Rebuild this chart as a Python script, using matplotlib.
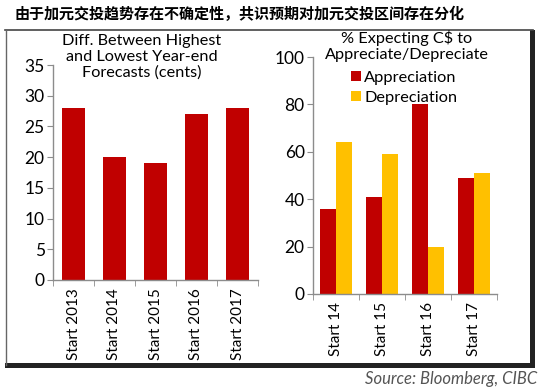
import matplotlib
matplotlib.use("Agg")
import matplotlib.pyplot as plt
import numpy as np
from matplotlib.patches import Rectangle
from matplotlib.lines import Line2D

plt.rcParams["font.family"] = ["Lato", "DejaVu Sans"]

# Left panel: gap between highest and lowest year-end forecasts
left_cats = ["Start 2013", "Start 2014", "Start 2015", "Start 2016", "Start 2017"]
left_vals = [28, 20, 19, 27, 28]

# Right panel: share expecting C$ to appreciate / depreciate
right_cats = ["Start 14", "Start 15", "Start 16", "Start 17"]
appreciation = [36, 41, 80, 49]
depreciation = [64, 59, 20, 51]

RED = "#C00000"
YELLOW = "#FFC000"
AXIS = "#8c8c8c"

W, H = 539, 391
fig = plt.figure(figsize=(W / 100, H / 100), dpi=100)


def fx(px):
    return px / W


def fy(py):
    return 1 - py / H


# Title and frame
fig.text(fx(14), fy(14), "由于加元交投趋势存在不确定性，共识预期对加元交投区间存在分化",
         family=["Noto Sans CJK SC", "DejaVu Sans"], fontweight="bold",
         fontsize=10.85, ha="left", va="center")
fig.add_artist(Line2D([fx(5), fx(533)], [fy(30), fy(30)], color="#444444", lw=1.2))
fig.add_artist(Line2D([fx(5.5), fx(5.5)], [fy(30), fy(365)], color="#666666", lw=1.0))
fig.add_artist(Rectangle((fx(530), fy(368)), fx(5), fy(30) - fy(368),
                         color="#222222", lw=0))
fig.add_artist(Rectangle((fx(5), fy(368)), fx(530), fy(363) - fy(368),
                         color="#222222", lw=0))
fig.text(fx(537), fy(379), "Source: Bloomberg, CIBC", style="italic",
         color="#555555", fontsize=12, ha="right", va="center")


def style_axis(ax):
    for s in ["top", "right"]:
        ax.spines[s].set_visible(False)
    for s in ["left", "bottom"]:
        ax.spines[s].set_color(AXIS)
        ax.spines[s].set_linewidth(1.0)
    ax.tick_params(axis="y", colors=AXIS, length=4, labelcolor="black",
                   labelsize=12.5, pad=2)
    ax.tick_params(axis="x", which="both", length=0, labelcolor="black",
                   labelsize=11, pad=6)


# Left chart
ax1 = fig.add_axes([fx(53), fy(280), fx(258) - fx(53), fy(65) - fy(280)])
x1 = np.arange(len(left_cats))
ax1.bar(x1, left_vals, width=0.56, color=RED)
ax1.set_xlim(-0.5, len(left_cats) - 0.5)
ax1.set_ylim(0, 35)
ax1.set_yticks(range(0, 36, 5))
ax1.set_xticks(x1)
ax1.set_xticklabels(left_cats, rotation=90)
ax1.set_xticks(np.arange(-0.5, len(left_cats)), minor=True)
style_axis(ax1)
ax1.tick_params(axis="x", which="minor", length=4, color=AXIS)
fig.text(fx(142), fy(57), "Diff. Between Highest\nand Lowest Year-end\nForecasts (cents)",
         ha="center", va="center", fontsize=11.7, linespacing=1.15)

# Right chart
ax2 = fig.add_axes([fx(313), fy(294), fx(497) - fx(313), fy(57) - fy(294)])
x2 = np.arange(len(right_cats))
bw = 0.35
ax2.bar(x2 - bw / 2, appreciation, width=bw, color=RED, label="Appreciation")
ax2.bar(x2 + bw / 2, depreciation, width=bw, color=YELLOW, label="Depreciation")
ax2.set_xlim(-0.5, len(right_cats) - 0.5)
ax2.set_ylim(0, 100)
ax2.set_yticks(range(0, 101, 20))
ax2.set_xticks(x2)
ax2.set_xticklabels(right_cats, rotation=90)
ax2.set_xticks(np.arange(-0.5, len(right_cats)), minor=True)
style_axis(ax2)
ax2.tick_params(axis="x", which="minor", length=4, color=AXIS)
fig.text(fx(407), fy(46), "% Expecting C$ to\nAppreciate/Depreciate",
         ha="center", va="center", fontsize=11.7, linespacing=1.2)
ax2.legend(loc="upper left", bbox_to_anchor=(fx(351), fy(71)),
           bbox_transform=fig.transFigure, frameon=False, fontsize=11.8,
           handlelength=0.6, handleheight=0.6, handletextpad=0.2,
           labelspacing=0.35, borderaxespad=0, borderpad=0)

fig.savefig("out.png", dpi=100, facecolor="white")
